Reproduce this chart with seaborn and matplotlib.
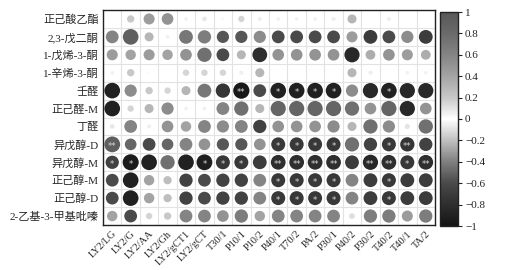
import numpy as np
import pandas as pd
import matplotlib
matplotlib.use("Agg")
import matplotlib.pyplot as plt
import seaborn as sns
from matplotlib.colors import LinearSegmentedColormap, Normalize
from matplotlib.cm import ScalarMappable

sns.set_style("white")
plt.rcParams['font.family'] = ['Liberation Serif', 'Noto Sans CJK SC', 'DejaVu Sans']

rows = ["正己酸乙酯", "2,3-戊二酮", "1-戊烯-3-酮", "1-辛烯-3-酮", "壬醛", "正己醛-M",
        "丁醛", "异戊醇-D", "异戊醇-M", "正己醇-M", "正己醇-D", "2-乙基-3-甲基吡嗪"]
cols = ["LY2/LG", "LY2/G", "LY2/AA", "LY2/Gh", "LY2/gCT1", "LY2/gCT", "T30/1", "P10/1",
        "P10/2", "P40/1", "T70/2", "PA/2", "P30/1", "P40/2", "P30/2", "T40/2", "T40/1", "TA/2"]

r_ethyl_hexanoate = [0, 0.2, 0.45, 0.5, 0.05, 0.08, 0.03, 0.15, 0.06, 0.05, 0.05, 0.05, 0.06, 0.3, 0, 0.06, 0, 0]
r_pentanedione = [0.6, 0.9, 0.3, 0.05, 0.7, 0.65, -0.55, -0.55, 0.55, -0.6, -0.6, -0.6, -0.6, 0.45, -0.7, -0.6, 0.55, -0.7]
r_pentenone = [0.45, 0.4, 0.45, 0.4, 0.5, 0.75, -0.6, 0.3, -0.8, 0.5, 0.5, 0.5, 0.5, -0.85, 0.35, 0.5, 0.45, 0.35]
r_octenone = [0.05, 0.2, 0.02, 0, 0.15, 0.15, 0.15, 0.06, 0.3, 0, 0, 0, 0, 0.3, 0.06, 0, 0.05, 0.05]
r_nonanal = [-0.9, 0.55, 0.2, 0.15, 0.3, 0.7, -0.75, -0.97, -0.6, -0.9, -0.9, -0.9, -0.9, 0.55, -0.85, -0.9, -0.85, -0.85]
r_hexanal_m = [-0.9, 0.15, 0.3, 0.55, 0.05, 0.05, 0.6, 0.75, 0.3, 0.85, 0.85, 0.85, 0.85, 0.75, 0.5, 0.85, -0.85, 0.5]
r_butanal = [0.08, 0.6, 0.06, 0.5, 0.4, 0.6, 0.55, 0.6, -0.65, 0.5, 0.5, 0.5, 0.55, 0.3, 0.75, 0.55, 0.1, 0.75]
r_isoamyl_d = [0.92, -0.5, -0.6, -0.5, 0.6, 0.5, -0.55, -0.55, 0.5, -0.72, -0.72, -0.72, -0.72, 0.75, -0.65, -0.72, -0.75, -0.65]
r_isoamyl_m = [-0.65, -0.95, -0.9, 0.75, -0.9, -0.92, -0.72, -0.72, -0.7, -0.8, -0.8, -0.8, -0.8, -0.7, -0.85, -0.8, -0.72, -0.8]
r_hexanol_m = [-0.6, -0.9, 0.4, 0.25, -0.65, -0.6, -0.65, -0.65, 0.6, -0.72, -0.72, -0.72, -0.72, 0.6, -0.7, -0.72, -0.7, -0.7]
r_hexanol_d = [-0.6, -0.9, 0.4, 0.25, -0.65, -0.6, -0.65, -0.65, 0.6, -0.72, -0.72, -0.72, -0.72, 0.6, -0.7, -0.72, -0.7, -0.7]
r_pyrazine = [0.4, -0.6, 0.15, 0.2, 0.6, 0.6, 0.5, 0.65, 0.4, 0.6, 0.6, 0.6, 0.6, 0.12, 0.65, 0.65, 0.45, 0.65]

series = [r_ethyl_hexanoate, r_pentanedione, r_pentenone, r_octenone, r_nonanal, r_hexanal_m,
          r_butanal, r_isoamyl_d, r_isoamyl_m, r_hexanol_m, r_hexanol_d, r_pyrazine]

# significance marks: (row label, column label, mark)
signif = [
    ("壬醛", "P10/1", "**"), ("壬醛", "P40/1", "*"), ("壬醛", "T70/2", "*"), ("壬醛", "PA/2", "*"),
    ("壬醛", "P30/1", "*"), ("壬醛", "T40/2", "*"),
    ("异戊醇-D", "LY2/LG", "**"), ("异戊醇-D", "P40/1", "*"), ("异戊醇-D", "T70/2", "*"),
    ("异戊醇-D", "PA/2", "*"), ("异戊醇-D", "P30/1", "*"), ("异戊醇-D", "T40/2", "*"), ("异戊醇-D", "T40/1", "**"),
    ("异戊醇-M", "LY2/LG", "*"), ("异戊醇-M", "LY2/G", "*"), ("异戊醇-M", "LY2/gCT", "*"),
    ("异戊醇-M", "T30/1", "*"), ("异戊醇-M", "P10/1", "*"), ("异戊醇-M", "P40/1", "**"),
    ("异戊醇-M", "T70/2", "**"), ("异戊醇-M", "PA/2", "**"), ("异戊醇-M", "P30/1", "**"),
    ("异戊醇-M", "P30/2", "**"), ("异戊醇-M", "T40/2", "**"), ("异戊醇-M", "T40/1", "*"), ("异戊醇-M", "TA/2", "**"),
    ("正己醇-M", "P40/1", "*"), ("正己醇-M", "T70/2", "*"), ("正己醇-M", "PA/2", "*"),
    ("正己醇-M", "P30/1", "*"), ("正己醇-M", "T40/2", "*"),
    ("正己醇-D", "P40/1", "*"), ("正己醇-D", "T70/2", "*"), ("正己醇-D", "PA/2", "*"),
    ("正己醇-D", "P30/1", "*"), ("正己醇-D", "T40/2", "*"),
]

recs = []
for i, (name, vals) in enumerate(zip(rows, series)):
    for j, v in enumerate(vals):
        recs.append({"row": i, "col": j, "r": v, "absr": abs(v)})
df = pd.DataFrame(recs)

nodes = [(-1.0, 0x15), (-0.8, 0x2e), (-0.6, 0x4a), (-0.4, 0x80), (-0.2, 0xc0), (0.0, 0xff),
         (0.2, 0xc8), (0.4, 0xa4), (0.6, 0x84), (0.8, 0x6a), (1.0, 0x58)]
cmap = LinearSegmentedColormap.from_list(
    "grey_corr", [((v + 1) / 2, (g / 255, g / 255, g / 255)) for v, g in nodes])

W, H, DPI = 509, 270, 100
fig = plt.figure(figsize=(W / DPI, H / DPI), dpi=DPI)
ax = fig.add_axes([103 / W, 1 - 225 / H, 332 / W, 215 / H])
cax = fig.add_axes([440 / W, 1 - 226 / H, 18 / W, 214 / H])

cell_px = 215 / 12
dmax_pt = 0.92 * cell_px * 72 / DPI
sns.scatterplot(data=df, x="col", y="row", hue="r", palette=cmap, hue_norm=(-1, 1),
                size="absr", sizes=(0, dmax_pt ** 2), size_norm=(0, 1),
                linewidth=0, edgecolor="none", legend=False, ax=ax, zorder=3)

for rname, cname, mark in signif:
    ax.text(cols.index(cname), rows.index(rname) + 0.12, mark, ha="center", va="center",
            fontsize=6, color="#d8d8d8", zorder=4, family="DejaVu Sans")

ax.set_xlim(-0.5, len(cols) - 0.5)
ax.set_ylim(len(rows) - 0.5, -0.5)
ax.set_xticks(range(len(cols)))
ax.set_xticklabels(cols, rotation=45, ha="right", rotation_mode="anchor", fontsize=7.5)
ax.set_yticks(range(len(rows)))
ax.set_yticklabels(rows, fontsize=8)
ax.set_xticks(np.arange(-0.5, len(cols)), minor=True)
ax.set_yticks(np.arange(-0.5, len(rows)), minor=True)
ax.grid(which="minor", color="#e2e2e2", linewidth=0.8, zorder=0)
ax.grid(which="major", visible=False)
ax.tick_params(which="both", length=0, pad=3)
ax.set_xlabel("")
ax.set_ylabel("")
for s in ax.spines.values():
    s.set_color("#222222")
    s.set_linewidth(1.0)

sm = ScalarMappable(norm=Normalize(-1, 1), cmap=cmap)
cb = fig.colorbar(sm, cax=cax)
ticks = np.round(np.arange(-1, 1.01, 0.2), 1)
cb.set_ticks(ticks)
cb.set_ticklabels([("−" if t < 0 else "") + ("%g" % abs(t)) for t in ticks])
cb.ax.tick_params(labelsize=8, length=3, width=0.8, pad=2)
cb.outline.set_edgecolor("#222222")
cb.outline.set_linewidth(1.0)

fig.savefig("out.png", dpi=DPI)
